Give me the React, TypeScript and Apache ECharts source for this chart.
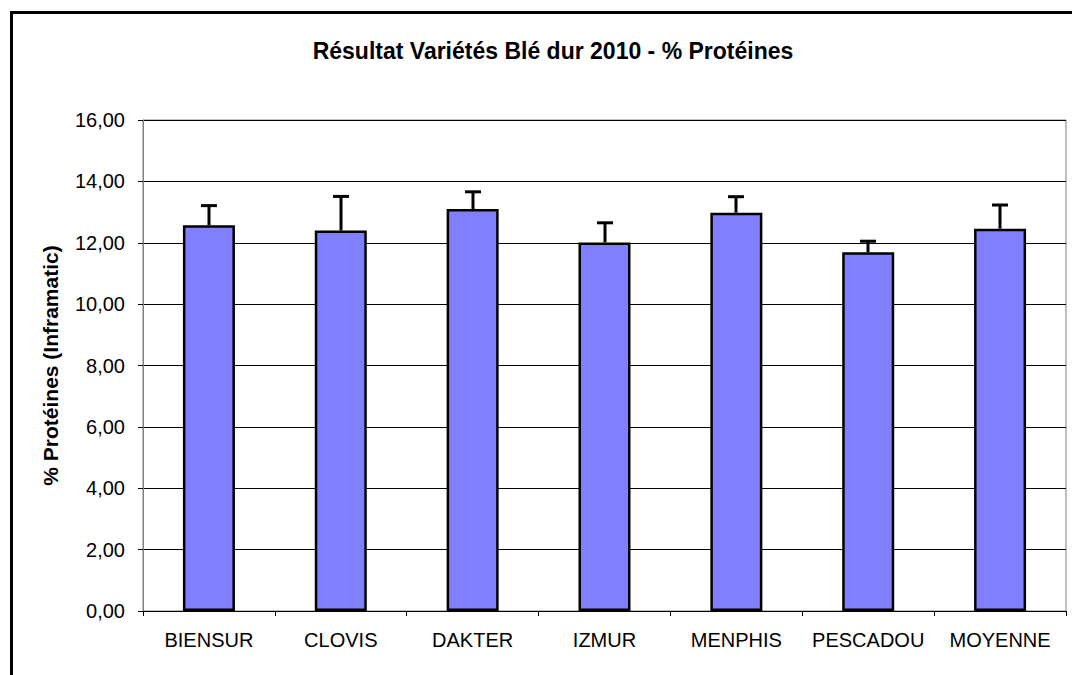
import React, { useEffect, useRef } from "react";
import * as echarts from "echarts";

const categories = ["BIENSUR", "CLOVIS", "DAKTER", "IZMUR", "MENPHIS", "PESCADOU", "MOYENNE"];
const proteinValues = [12.57, 12.4, 13.1, 12.01, 12.98, 11.69, 12.46];
const errorTops = [13.21, 13.51, 13.66, 12.65, 13.5, 12.05, 13.23];

const titleText = "Résultat Variétés Blé dur 2010 - % Protéines";
const yAxisName = "% Protéines (Inframatic)";

const FONT = "Liberation Sans, Arial, sans-serif";

export default function App() {
  const ref = useRef<HTMLDivElement>(null);
  useEffect(() => {
    if (!ref.current) return;
    const chart = echarts.init(ref.current, null, { renderer: "svg" });
    const errData = categories.map((c, i) => [i, proteinValues[i], errorTops[i]]);
    chart.setOption({
      animation: false,
      backgroundColor: "#fff",
      textStyle: { fontFamily: FONT },
      title: {
        text: titleText,
        left: 548,
        textAlign: "center",
        top: 34,
        textStyle: { fontSize: 23, fontWeight: "bold", color: "#000", fontFamily: FONT },
      },
      graphic: [
        {
          type: "rect",
          shape: { x: 11.5, y: 12.5, width: 1200, height: 1000 },
          style: { fill: "none", stroke: "#000", lineWidth: 3 },
          silent: true,
          z: 100,
        },
      ],
      grid: {
        left: 143,
        top: 120,
        right: 6,
        bottom: 64,
        show: true,
        borderColor: "#808080",
        borderWidth: 1,
        backgroundColor: "#fff",
      },
      xAxis: {
        type: "category",
        data: categories,
        boundaryGap: true,
        axisLine: { show: true, lineStyle: { color: "#000", width: 1 } },
        axisTick: { show: true, alignWithLabel: false, length: 5, lineStyle: { color: "#000" } },
        axisLabel: { color: "#000", fontSize: 20, margin: 19, interval: 0, fontFamily: FONT },
      },
      yAxis: {
        type: "value",
        min: 0,
        max: 16,
        interval: 2,
        name: yAxisName,
        nameLocation: "middle",
        nameRotate: 90,
        nameGap: 82,
        nameTextStyle: { fontSize: 21, fontWeight: "bold", color: "#000", fontFamily: FONT },
        axisLine: { show: true, lineStyle: { color: "#808080", width: 1 } },
        axisTick: { show: true, length: 5, lineStyle: { color: "#000" } },
        splitLine: { show: true, lineStyle: { color: "#000", width: 1 } },
        axisLabel: {
          color: "#000",
          fontSize: 20,
          margin: 18,
          fontFamily: FONT,
          formatter: (v: number) => v.toFixed(2).replace(".", ","),
        },
      },
      series: [
        {
          type: "bar",
          data: proteinValues,
          barWidth: 52,
          itemStyle: { color: "#8080FF", borderColor: "#000", borderWidth: 2.5 },
          z: 2,
        },
        {
          type: "custom",
          data: errData,
          z: 3,
          renderItem: (params: any, api: any) => {
            const x = api.value(0);
            const top = api.coord([x, api.value(2)]);
            const base = api.coord([x, api.value(1)]);
            const cx = Math.round(top[0]);
            const half = 8;
            return {
              type: "group",
              children: [
                {
                  type: "line",
                  shape: { x1: cx, y1: base[1], x2: cx, y2: top[1] },
                  style: { stroke: "#000", lineWidth: 3 },
                },
                {
                  type: "line",
                  shape: { x1: cx - half, y1: top[1], x2: cx + half, y2: top[1] },
                  style: { stroke: "#000", lineWidth: 3 },
                },
              ],
            };
          },
        },
      ],
    });
    return () => chart.dispose();
  }, []);
  return <div ref={ref} style={{ position: "fixed", left: 0, top: 0, width: 1072, height: 675 }} />;
}
